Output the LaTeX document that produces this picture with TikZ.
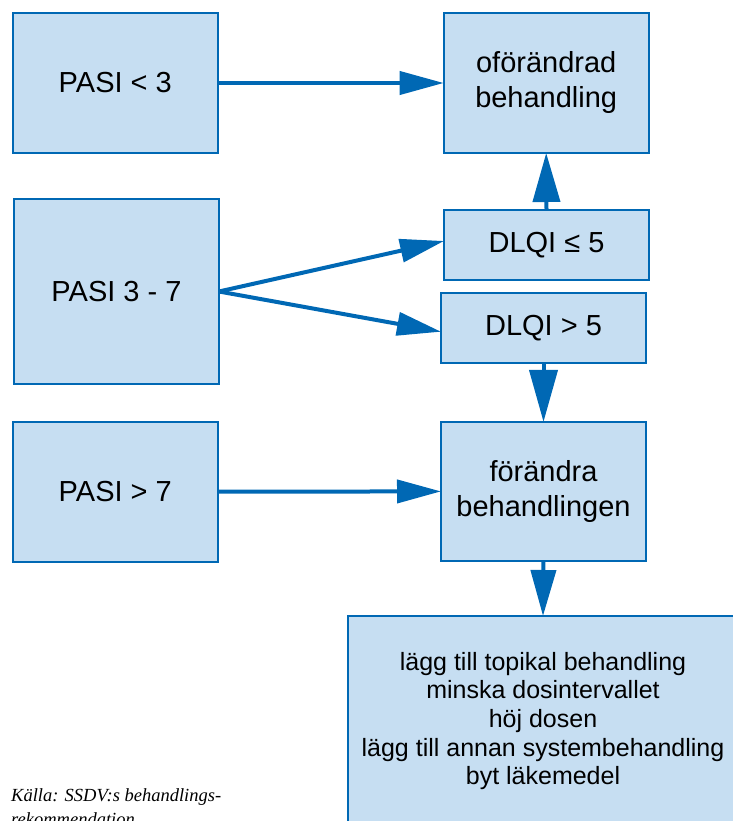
\documentclass[tikz,border=0pt]{standalone}
\usepackage{fontspec}
\setmainfont{Liberation Sans}
\newfontfamily\notefont{Liberation Serif}
\usetikzlibrary{arrows.meta}
\definecolor{boxfill}{RGB}{198,222,242}
\definecolor{boxline}{RGB}{0,104,180}
\tikzset{
  box/.style={draw=boxline, fill=boxfill, line width=2.2pt, rectangle,
    inner sep=0pt, outer sep=0pt, align=center,
    font=\fontsize{29}{35}\selectfont},
  flow/.style={draw=boxline, line width=4pt,
    -{Triangle[length=44pt,width=23pt]}},
  upflow/.style={draw=boxline, line width=4pt,
    -{Triangle[length=49pt,width=27pt]}},
  downflow/.style={draw=boxline, line width=4pt,
    -{Triangle[length=52pt,width=28pt]}},
  lastflow/.style={draw=boxline, line width=4pt,
    -{Triangle[length=46pt,width=25pt]}},
  note/.style={anchor=base west, inner sep=0pt,
    font=\notefont\itshape\fontsize{18.5}{23}\selectfont}
}
\begin{document}
\begin{tikzpicture}[x=1pt,y=-1pt]
\useasboundingbox (0,0) rectangle (732,821);

% left column: PASI ranges
\node[box, minimum width=205pt, minimum height=140pt] (p1) at (115.3,83) {PASI < 3};
\node[box, minimum width=205pt, minimum height=185pt] (p2) at (116.5,291.5) {PASI 3 - 7};
\node[box, minimum width=205pt, minimum height=140pt] (p3) at (115.3,491.7) {PASI > 7};

% right column: outcomes
\node[box, minimum width=205pt, minimum height=140pt] (keep) at (546.2,83) {oförändrad\\behandling};
\node[box, minimum width=205pt, minimum height=70pt] (d1) at (546.5,245) {DLQI ≤ 5};
\node[box, minimum width=205pt, minimum height=70pt] (d2) at (543.5,328) {DLQI > 5};
\node[box, minimum width=205pt, minimum height=139pt] (chg) at (543.5,491.4) {förändra\\behandlingen};

% options for changing treatment
\node[box, minimum width=390pt, minimum height=210pt,
      font=\fontsize{25}{28.6}\selectfont] (opts) at (543,721)
  {lägg till topikal behandling\\minska dosintervallet\\höj dosen\\lägg till annan systembehandling\\byt läkemedel};

% connectors
\draw[flow] (p1.east) -- (keep.west);
\draw[flow] (p2.east) -- ([yshift=4pt]d1.west);
\draw[flow] (p2.east) -- ([yshift=-3.7pt]d2.west);
\draw[flow] (p3.east) -- (chg.west);
\draw[upflow] (d1.north) -- (keep.south);
\draw[downflow] (d2.south) -- (chg.north);
\draw[lastflow] (chg.south) -- (opts.north);

% source note
\node[note] (src1) at (11,801.7) {Källa: SSDV:s behandlings-};
\node[note] (src2) at (11,825.5) {rekommendation};
\end{tikzpicture}
\end{document}
